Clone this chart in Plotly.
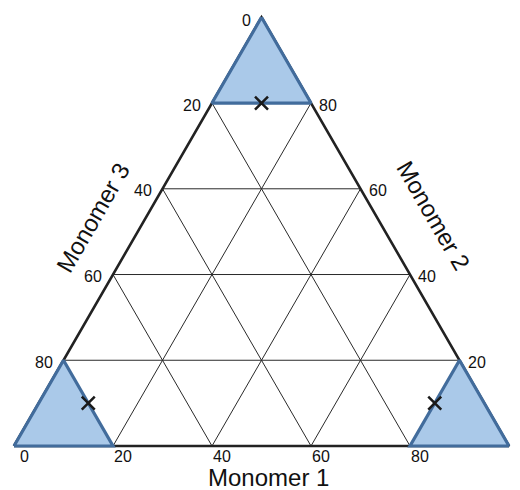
import math
import plotly.graph_objects as go

# Ternary compositions are given as (Monomer 1, Monomer 2, Monomer 3) in percent.
M1_TICKS = [0, 20, 40, 60, 80]      # along the base
M2_TICKS = [20, 40, 60, 80]         # along the right side
M3_TICKS = [0, 20, 40, 60, 80]      # along the left side
GRID_LEVELS = [20, 40, 60, 80]

# Corner regions where one monomer is at least 80 %
REGION_M2 = {"m1": [0, 20, 0, 0], "m2": [100, 80, 80, 100], "m3": [0, 0, 20, 0]}
REGION_M3 = {"m1": [0, 20, 0, 0], "m2": [0, 0, 20, 0], "m3": [100, 80, 80, 100]}
REGION_M1 = {"m1": [100, 80, 80, 100], "m2": [0, 0, 20, 0], "m3": [0, 20, 0, 0]}

# Reference compositions marked with a cross
POINT_M1 = [10, 10, 80]
POINT_M2 = [80, 10, 10]
POINT_M3 = [10, 80, 10]

SQ = math.sqrt(3) / 2
FONT = "Liberation Sans, Arial, sans-serif"
EDGE = "rgb(66,108,156)"
FILL = "rgb(170,201,233)"


def to_xy(m1, m2, m3):
    total = m1 + m2 + m3
    return m1 / total + 0.5 * m2 / total, SQ * m2 / total


def seg_xy(m1s, m2s, m3s):
    xs, ys = [], []
    for a, b, c in zip(m1s, m2s, m3s):
        x, y = to_xy(a, b, c)
        xs.append(x)
        ys.append(y)
    return xs, ys


fig = go.Figure()

# grid lines at constant composition
gx, gy = [], []
for g in GRID_LEVELS:
    for p, q in [((0, g, 100 - g), (100 - g, g, 0)),
                 ((g, 0, 100 - g), (g, 100 - g, 0)),
                 ((0, 100 - g, g), (100 - g, 0, g))]:
        x0, y0 = to_xy(*p)
        x1, y1 = to_xy(*q)
        gx += [x0, x1, None]
        gy += [y0, y1, None]
fig.add_trace(go.Scatter(x=gx, y=gy, mode="lines",
                         line=dict(color="#2a2a2a", width=1),
                         hoverinfo="skip", showlegend=False))

# outer triangle
ox, oy = seg_xy([0, 100, 0, 0], [0, 0, 100, 0], [100, 0, 0, 100])
fig.add_trace(go.Scatter(x=ox, y=oy, mode="lines",
                         line=dict(color="#222222", width=2.6),
                         hoverinfo="skip", showlegend=False))

# shaded corner regions
for reg in (REGION_M2, REGION_M3, REGION_M1):
    rx, ry = seg_xy(reg["m1"], reg["m2"], reg["m3"])
    fig.add_trace(go.Scatter(x=rx, y=ry, mode="lines", fill="toself",
                             fillcolor=FILL,
                             line=dict(color=EDGE, width=3.2),
                             hoverinfo="skip", showlegend=False))

# marked compositions
px, py = seg_xy(POINT_M1, POINT_M2, POINT_M3)
fig.add_trace(go.Scatter(x=px, y=py, mode="markers",
                         marker=dict(symbol="x-thin", size=13,
                                     line=dict(color="#1a1a1a", width=2.5)),
                         hoverinfo="skip", showlegend=False))

ann = []
tick_font = dict(family=FONT, size=16, color="#111111")
for v in M1_TICKS:
    x, y = to_xy(v, 0, 100 - v)
    ann.append(dict(x=x, y=y, text=str(v), showarrow=False, xanchor="left",
                    yanchor="middle", xshift=(4 if v == 0 else -1), yshift=-10,
                    font=tick_font))
for v in M3_TICKS:
    x, y = to_xy(0, 100 - v, v)
    ann.append(dict(x=x, y=y, text=str(v), showarrow=False, xanchor="right",
                    yanchor="middle", xshift=-9, yshift=(-3 if v == 0 else -2),
                    font=tick_font))
for v in M2_TICKS:
    x, y = to_xy(100 - v, v, 0)
    ann.append(dict(x=x, y=y, text=str(v), showarrow=False, xanchor="left",
                    yanchor="middle", xshift=6, yshift=-2,
                    font=tick_font))

title_font = dict(family=FONT, size=24, color="#111111")
bx, by = to_xy(50, 0, 50)
ann.append(dict(x=bx, y=by, text="Monomer 1", showarrow=False,
                xanchor="center", yanchor="middle", xshift=7, yshift=-31,
                font=title_font))
# side titles, offset outward from each side
lx, ly = to_xy(0, 48, 52)
ann.append(dict(x=lx, y=ly, text="Monomer 3", showarrow=False, textangle=-60,
                xanchor="center", yanchor="middle",
                xshift=-46 * SQ, yshift=46 * 0.5, font=title_font))
rx, ry = to_xy(52, 48, 0)
ann.append(dict(x=rx, y=ry, text="Monomer 2", showarrow=False, textangle=60,
                xanchor="center", yanchor="middle",
                xshift=50 * SQ, yshift=50 * 0.5, font=title_font))

S = 495.0
fig.update_layout(
    width=520, height=490,
    margin=dict(l=0, r=0, t=0, b=0, pad=0),
    paper_bgcolor="white", plot_bgcolor="white",
    xaxis=dict(range=[-14 / S, 506 / S], visible=False, fixedrange=True),
    yaxis=dict(range=[-44 / S, 446 / S], visible=False, fixedrange=True),
    annotations=ann,
    showlegend=False,
)

fig.write_html("out.html")
